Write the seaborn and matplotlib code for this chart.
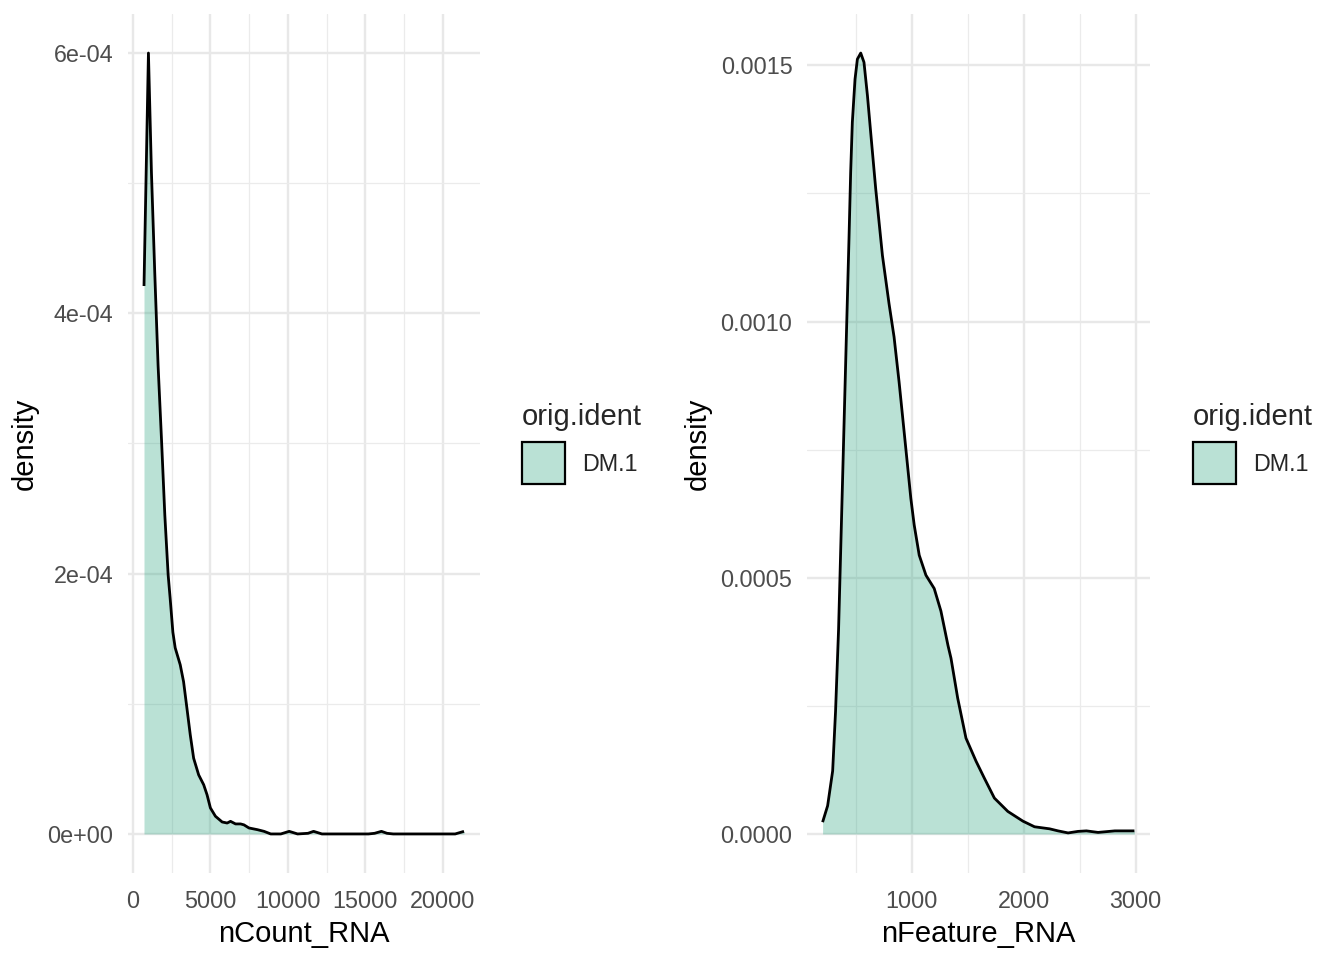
import numpy as np
import matplotlib
matplotlib.use("Agg")
import matplotlib.pyplot as plt
import seaborn as sns
from matplotlib.patches import Patch
from matplotlib.ticker import MultipleLocator

# density curve of nCount_RNA
count_x = [714, 1000, 1195, 1409, 1623, 1844, 2058, 2273, 2403, 2578, 2727, 3052, 3268,
           3485, 3701, 3918, 4242, 4567, 4784, 5000, 5325, 5758, 6082, 6299, 6623, 6948,
           7164, 7489, 8030, 8463, 8896, 9545, 10086, 10627, 11300, 11660, 12200, 13000,
           14000, 15200, 15600, 16040, 16400, 16800, 18000, 19500, 20800, 21370]
count_d = [4.21e-4, 6.0e-4, 5.08e-4, 4.31e-4, 3.60e-4, 3.03e-4, 2.45e-4, 1.99e-4, 1.81e-4,
           1.55e-4, 1.43e-4, 1.30e-4, 1.17e-4, 0.966e-4, 0.761e-4, 0.582e-4, 0.454e-4,
           0.378e-4, 0.301e-4, 0.2e-4, 0.136e-4, 0.092e-4, 0.084e-4, 0.097e-4, 0.077e-4,
           0.077e-4, 0.07e-4, 0.046e-4, 0.033e-4, 0.02e-4, 0.0, 0.0, 0.02e-4, 0.0,
           0.005e-4, 0.02e-4, 0.0, 0.0, 0.0, 0.0, 0.005e-4, 0.02e-4, 0.005e-4, 0.0, 0.0,
           0.0, 0.0, 0.02e-4]

# density curve of nFeature_RNA
feat_x = [202, 247, 292, 318, 345, 381, 414, 438, 453, 468, 492, 513, 543, 572, 603, 632,
          677, 737, 796, 841, 886, 931, 961, 991, 1021, 1066, 1126, 1200, 1260, 1323, 1350,
          1410, 1484, 1574, 1648, 1738, 1858, 1993, 2097, 2232, 2307, 2397, 2486, 2561,
          2665, 2815, 2990]
feat_d = [0.23e-4, 0.55e-4, 1.23e-4, 2.4e-4, 4.0e-4, 6.94e-4, 9.66e-4, 1.161e-3, 1.291e-3,
          1.389e-3, 1.473e-3, 1.512e-3, 1.524e-3, 1.506e-3, 1.441e-3, 1.369e-3, 1.259e-3,
          1.129e-3, 1.035e-3, 0.97e-3, 0.882e-3, 0.785e-3, 0.72e-3, 0.655e-3, 0.603e-3,
          0.544e-3, 0.505e-3, 0.479e-3, 0.435e-3, 0.368e-3, 0.343e-3, 0.265e-3, 0.187e-3,
          0.142e-3, 0.109e-3, 0.070e-3, 0.044e-3, 0.025e-3, 0.014e-3, 0.010e-3, 0.006e-3,
          0.002e-3, 0.005e-3, 0.006e-3, 0.003e-3, 0.006e-3, 0.006e-3]

group = "DM.1"
fill_rgb = (27 / 255, 158 / 255, 119 / 255)

sns.set_theme(style="whitegrid")
plt.rcParams["font.family"] = ["Liberation Sans", "DejaVu Sans"]

fig = plt.figure(figsize=(13.44, 9.6), dpi=100)

panels = [
    dict(x=count_x, d=count_d, label="nCount_RNA",
         rect=[128 / 1344, 87 / 960, 352 / 1344, 859 / 960],
         xmaj=5000, ymaj=2e-4,
         fmt=lambda v: "0e+00" if v == 0 else f"{v:.0e}", leg_x=1.093),
    dict(x=feat_x, d=feat_d, label="nFeature_RNA",
         rect=[807 / 1344, 87 / 960, 343 / 1344, 859 / 960],
         xmaj=1000, ymaj=5e-4, fmt=lambda v: f"{v:.4f}", leg_x=1.098),
]

for p in panels:
    ax = fig.add_axes(p["rect"])
    xs, ds = np.array(p["x"]), np.array(p["d"])
    ax.fill_between(xs, 0, ds, color=fill_rgb, alpha=0.3, linewidth=0)
    sns.lineplot(x=xs, y=ds, ax=ax, color="black", linewidth=2.0, sort=False,
                 solid_joinstyle="round", solid_capstyle="butt")

    xr = xs.max() - xs.min()
    x0, x1 = xs.min() - 0.05 * xr, xs.max() + 0.05 * xr
    ax.set_xlim(x0, x1)
    yr = ds.max()
    ax.set_ylim(-0.05 * yr, 1.05 * yr)

    ax.xaxis.set_major_locator(MultipleLocator(p["xmaj"]))
    ax.xaxis.set_minor_locator(MultipleLocator(p["xmaj"] / 2))
    ax.yaxis.set_major_locator(MultipleLocator(p["ymaj"]))
    ax.yaxis.set_minor_locator(MultipleLocator(p["ymaj"] / 2))
    xt = [t for t in ax.get_xticks() if x0 <= t <= x1]
    ax.set_xticks(xt)
    ax.set_xticklabels([f"{int(t)}" for t in xt])
    yt = [t for t in ax.get_yticks() if -0.05 * yr <= t <= 1.05 * yr]
    ax.set_yticks(yt)
    ax.set_yticklabels([p["fmt"](round(t, 6)) for t in yt])

    ax.grid(which="major", color="#E8E8E8", linewidth=1.7)
    ax.grid(which="minor", color="#EBEBEB", linewidth=0.9)
    ax.set_axisbelow(True)
    for s in ax.spines.values():
        s.set_visible(False)
    ax.set_facecolor("white")
    ax.tick_params(which="both", length=0, labelsize=16.8, labelcolor="#4D4D4D")
    ax.tick_params(axis="x", pad=12)
    ax.tick_params(axis="y", pad=10.5)

    ax.set_xlabel(p["label"], fontsize=21, color="black", labelpad=5)
    ax.set_ylabel("density", fontsize=21, color="black", labelpad=6)

    handle = Patch(facecolor=(*fill_rgb, 0.3), edgecolor="black", linewidth=1.6)
    leg = ax.legend([handle], [group], title="orig.ident", loc="center left",
                    bbox_to_anchor=(p["leg_x"], 0.5), frameon=False, fontsize=16.8,
                    title_fontsize=21, handlelength=1.84, handleheight=2.39,
                    handletextpad=0.73, borderaxespad=0)
    leg._legend_box.align = "left"

fig.savefig("out.png", dpi=100, facecolor="white")
